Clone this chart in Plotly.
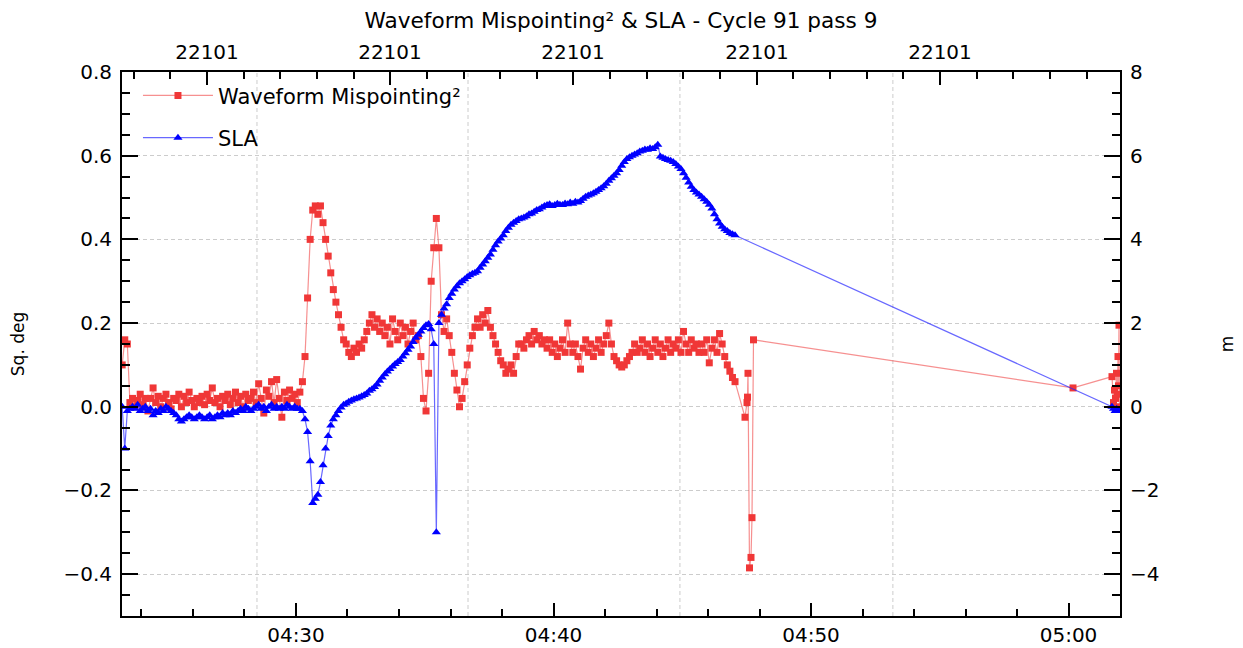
import pandas as pd
import plotly.graph_objects as go

# ---------------- data ----------------
DAY = pd.Timestamp("2015-01-01")
DENSE_START = "04:23:15"     # first sample of the dense segment
DENSE_STEP = "6s"            # sampling interval of the dense segment

# Waveform mispointing^2 (sq. deg), dense segment
mispointing = [
    0.10, 0.16, 0.15,
    0.01, 0.02, 0.0, 0.015, 0.03, 0.005, 0.02, -0.01,
    0.02, 0.045, 0.01, 0.025, 0.0, 0.02, 0.03, 0.01, -0.005, 0.02,
    0.015, 0.03, 0.0, 0.025, 0.01, 0.035, 0.015, 0.0, 0.02, 0.01,
    0.025, 0.005, 0.03, 0.015, 0.045, 0.01, 0.02, 0.0, 0.025, 0.015,
    0.03, 0.005, 0.02, 0.035, 0.01, 0.025, 0.0, 0.03, 0.015, 0.02,
    0.035, 0.01, 0.055, 0.02, -0.015, 0.04, 0.025, 0.06, 0.01, 0.065,
    0.02, -0.025, 0.035, 0.015, 0.04, 0.02, 0.03, 0.01, 0.035,
    0.06, 0.12, 0.26, 0.40, 0.47, 0.48, 0.46, 0.48, 0.44, 0.40,
    0.36, 0.32, 0.28, 0.25, 0.22, 0.19, 0.16, 0.15, 0.13, 0.12,
    0.14, 0.13, 0.15, 0.14, 0.16, 0.18, 0.20, 0.22, 0.19, 0.21, 0.18,
    0.20, 0.17, 0.19, 0.15, 0.21, 0.18, 0.16, 0.20, 0.17, 0.19, 0.15, 0.18, 0.20, 0.16, 0.17,
    0.12, 0.02, -0.01, 0.08, 0.30, 0.38, 0.45, 0.38, 0.22, 0.18, 0.21, 0.17, 0.13, 0.08, 0.04,
    0.00, 0.02, 0.06, 0.10, 0.14, 0.17, 0.19, 0.21, 0.19, 0.22, 0.20, 0.23, 0.19, 0.17, 0.15,
    0.13, 0.11, 0.10, 0.08, 0.09, 0.10, 0.08, 0.12, 0.15,
    0.15, 0.14, 0.16, 0.17, 0.15, 0.18, 0.16, 0.17, 0.15, 0.16,
    0.14, 0.16, 0.13, 0.15, 0.12, 0.14, 0.16, 0.13, 0.20, 0.15,
    0.13, 0.15, 0.12, 0.09, 0.14, 0.16, 0.13, 0.15, 0.12, 0.14,
    0.16, 0.13, 0.15, 0.17, 0.20, 0.15, 0.12, 0.11, 0.10, 0.095,
    0.10, 0.11, 0.12, 0.13, 0.15, 0.13, 0.14, 0.16, 0.13, 0.15,
    0.12, 0.14, 0.16, 0.13, 0.15, 0.12, 0.14, 0.16, 0.13, 0.15,
    0.14, 0.16, 0.13, 0.18, 0.15, 0.13, 0.16, 0.14, 0.15, 0.13,
    0.15, 0.13, 0.16, 0.105, 0.14, 0.16, 0.13, 0.175, 0.15, 0.12,
    0.10, 0.085, 0.07, 0.06,
]

# SLA (m), dense segment
sla = [
    0.0, -1.0, -0.1,
    -0.05, 0.0, -0.05, 0.05, -0.1, -0.05, 0.0, -0.1,
    -0.05, -0.2, -0.1, -0.15, -0.05, -0.1, 0.0, -0.05, -0.1, -0.15,
    -0.2, -0.3, -0.35, -0.3, -0.25, -0.2, -0.25, -0.3, -0.25, -0.2,
    -0.25, -0.3, -0.25, -0.2, -0.3, -0.25, -0.2, -0.25, -0.15, -0.2,
    -0.15, -0.2, -0.1, -0.15, -0.1, -0.05, -0.1, 0.0, -0.05, -0.1,
    -0.05, 0.0, 0.05, -0.05, 0.0, -0.1, 0.0, 0.05, -0.05, 0.0,
    -0.05, 0.0, -0.05, 0.05, 0.0, -0.05, 0.0, -0.05, -0.05,
    -0.1, -0.3, -0.6, -1.3, -2.3, -2.2, -2.1, -1.8, -1.4, -1.0,
    -0.7, -0.45, -0.3, -0.2, -0.1, -0.02, 0.05, 0.08, 0.12, 0.15,
    0.18, 0.2, 0.22, 0.25, 0.28, 0.32, 0.38, 0.42, 0.47, 0.53, 0.62,
    0.7, 0.78, 0.84, 0.9, 0.96, 1.02, 1.07, 1.12, 1.2, 1.28,
    1.36, 1.44, 1.55, 1.65, 1.72, 1.8, 1.88, 1.95, 1.98, 1.85,
    1.5, -3.0, 2.0, 2.2, 2.35, 2.45, 2.6, 2.7, 2.8, 2.88,
    2.95, 3.0, 3.05, 3.1, 3.14, 3.18, 3.2, 3.24, 3.32, 3.4,
    3.48, 3.56, 3.64, 3.75, 3.86, 3.95, 4.02, 4.1, 4.2, 4.28,
    4.35, 4.4, 4.44, 4.48, 4.5, 4.52, 4.55, 4.6, 4.62, 4.66,
    4.7, 4.72, 4.76, 4.8, 4.82, 4.84, 4.8, 4.82, 4.85, 4.83,
    4.82, 4.86, 4.84, 4.88, 4.85, 4.9, 4.88, 4.92, 4.97, 5.02,
    5.05, 5.07, 5.1, 5.14, 5.18, 5.22, 5.27, 5.33, 5.4, 5.46,
    5.52, 5.58, 5.66, 5.76, 5.85, 5.92, 5.96, 6.0, 6.03, 6.06,
    6.1, 6.12, 6.15, 6.14, 6.18, 6.16, 6.2, 6.26, 5.98, 5.95,
    5.92, 5.9, 5.88, 5.85, 5.8, 5.74, 5.68, 5.58, 5.47, 5.36,
    5.26, 5.18, 5.12, 5.07, 5.02, 4.96, 4.9, 4.83, 4.74, 4.6,
    4.48, 4.38, 4.3, 4.24, 4.2, 4.15, 4.12, 4.1,
]

# sparse tail samples: minutes after 04:00
mis_tail_minutes = [47.437, 47.515, 47.534, 47.553, 47.612, 47.670, 47.709, 47.767,
                    60.175, 61.689, 61.748, 61.786, 61.825, 61.864, 61.903, 61.922,
                    61.942, 61.961, 61.980]
mis_tail = [-0.025, 0.01, 0.023, 0.08, -0.385, -0.36, -0.265, 0.16,
            0.045, 0.072, 0.01, 0.04, 0.02, 0.08, 0.03, 0.12,
            0.05, 0.195, 0.0]
sla_tail_minutes = [61.689, 61.75, 61.81, 61.87, 61.93, 61.98]
sla_tail = [0.0, -0.05, -0.1, -0.05, -0.1, -0.08]

# top axis: pass number labels (minutes after 04:00)
pass_tick_minutes = [26.544, 33.650, 40.757, 47.903, 55.010]
pass_labels = ["22101", "22101", "22101", "22101", "22101"]

# vertical grid positions (minutes after 04:00)
grid_minutes = [28.485, 36.680, 44.910, 53.180]

x_range_minutes = [23.243, 62.0]

# ---------------- build ----------------
H4 = DAY + pd.Timedelta(hours=4)


def at(m):
    return H4 + pd.Timedelta(minutes=m)


red_t = list(pd.date_range(DAY + pd.Timedelta(DENSE_START), periods=len(mispointing), freq=DENSE_STEP)) \
    + [at(m) for m in mis_tail_minutes]
red_v = mispointing + mis_tail
blue_t = list(pd.date_range(DAY + pd.Timedelta(DENSE_START), periods=len(sla), freq=DENSE_STEP)) \
    + [at(m) for m in sla_tail_minutes]
blue_v = sla + sla_tail

xr = [at(m) for m in x_range_minutes]

# top-axis minor ticks: 4 between each pair of labels
step = (pass_tick_minutes[-1] - pass_tick_minutes[0]) / (len(pass_tick_minutes) - 1)
top_minor = []
k = pass_tick_minutes[0] - step
while k < x_range_minutes[1]:
    for j in range(1, 5):
        v = k + j * step / 5
        if x_range_minutes[0] < v < x_range_minutes[1]:
            top_minor.append(at(v))
    k += step

FONT = "DejaVu Sans"
GRID = "#cccccc"
DASH = "4px,3px"
W, H = 1235, 640   # page body has an 8px margin

fig = go.Figure()
fig.add_trace(go.Scatter(
    x=red_t, y=red_v, name="Waveform Mispointing²", mode="lines+markers",
    line=dict(color="rgba(240,70,70,0.6)", width=1.2),
    marker=dict(symbol="square", size=7, color="rgb(240,55,55)"),
    xaxis="x", yaxis="y", legendgroup="a",
))
fig.add_trace(go.Scatter(
    x=blue_t, y=blue_v, name="SLA", mode="lines+markers",
    line=dict(color="rgba(40,40,255,0.7)", width=1.2),
    marker=dict(symbol="triangle-up", size=8, color="rgb(0,0,255)"),
    xaxis="x2", yaxis="y2", legendgroup="b",
))

# vertical dashed grid lines
for m in grid_minutes:
    fig.add_shape(type="line", xref="x", yref="paper", x0=at(m), x1=at(m), y0=0, y1=1,
                  line=dict(color=GRID, width=1, dash=DASH), layer="below")

tickstyle = dict(ticks="inside", tickcolor="black", tickwidth=2, showline=True,
                 linecolor="black", linewidth=2, zeroline=False, automargin=False,
                 tickfont=dict(family=FONT, size=20, color="black"))

fig.update_layout(
    width=W, height=H,
    margin=dict(l=114, r=123, t=64, b=32),
    paper_bgcolor="white", plot_bgcolor="white",
    font=dict(family=FONT, color="black"),
    title=dict(text="Waveform Mispointing² & SLA - Cycle 91 pass 9", x=(621 - 8) / W, xanchor="center",
               y=1 - 12 / H, yanchor="middle", automargin=False,
               font=dict(family=FONT, size=21.6, color="black")),
    showlegend=True,
    legend=dict(x=0.016, y=0.994, xanchor="left", yanchor="top", bgcolor="rgba(0,0,0,0)",
                font=dict(family=FONT, size=21, color="black"), tracegroupgap=12,
                itemwidth=70),
    xaxis=dict(type="date", range=xr, tickformat="%H:%M", tick0=H4, dtick=600000,
               ticklen=13, showgrid=False, ticklabelstandoff=0,
               minor=dict(dtick=120000, tick0=H4, ticklen=7, tickwidth=2, tickcolor="black",
                          ticks="inside", showgrid=False),
               **tickstyle),
    xaxis2=dict(type="date", overlaying="x", side="top", range=xr, anchor="y2",
                tickmode="array", tickvals=[at(m) for m in pass_tick_minutes], ticktext=pass_labels,
                ticklen=13, showgrid=False, ticklabelstandoff=3,
                minor=dict(tickvals=top_minor, ticklen=7, tickwidth=2, tickcolor="black",
                           ticks="inside", showgrid=False),
                **tickstyle),
    yaxis=dict(range=[-0.5, 0.8], tick0=0, dtick=0.2, tickformat=".1f", ticklen=16,
               showgrid=True, gridcolor=GRID, griddash=DASH, gridwidth=1,
               ticklabelstandoff=4,
               minor=dict(dtick=0.05, tick0=0, ticklen=8, tickwidth=2, tickcolor="black",
                          ticks="inside", showgrid=False),
               title=dict(text="Sq. deg", standoff=40, font=dict(family=FONT, size=17, color="black")),
               **tickstyle),
    yaxis2=dict(range=[-5, 8], overlaying="y", side="right", anchor="x2", tick0=0, dtick=2, ticklen=16,
                showgrid=False, ticklabelstandoff=4,
                minor=dict(dtick=0.5, tick0=0, ticklen=8, tickwidth=2, tickcolor="black",
                           ticks="inside", showgrid=False),
                title=dict(text="m", standoff=63, font=dict(family=FONT, size=17, color="black")),
                **tickstyle),
)

fig.write_html("out.html")
